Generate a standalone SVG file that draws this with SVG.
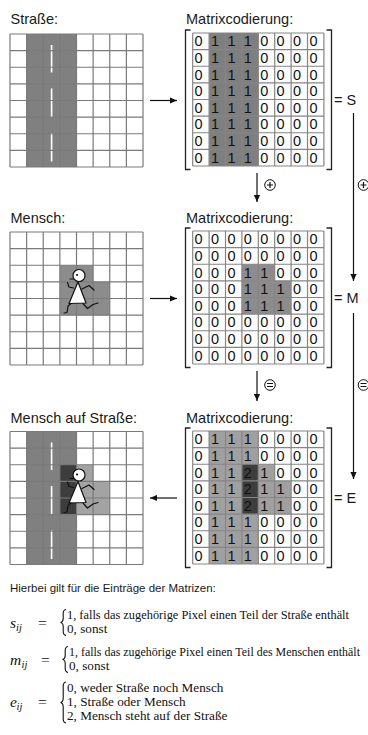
<svg xmlns="http://www.w3.org/2000/svg" xmlns:xlink="http://www.w3.org/1999/xlink" width="368" height="735" viewBox="0 0 368 735">
  <style>
    .lbl { font-family: "Liberation Sans", Arial, sans-serif; font-size: 14.5px; fill: #1a1a1a; }
    .dig { font-family: "Liberation Sans", Arial, sans-serif; font-size: 14.5px; fill: #111; }
    .note { font-family: "Liberation Sans", Arial, sans-serif; font-size: 11.5px; fill: #1a1a1a; }
    .f { font-family: "Liberation Serif", "Times New Roman", serif; font-size: 13.2px; fill: #111; }
    .fl { font-family: "Liberation Serif", "Times New Roman", serif; font-size: 12.2px; fill: #111; }
    .mv { font-family: "Liberation Serif", "Times New Roman", serif; font-style: italic; font-size: 15.5px; fill: #111; }
    .sub { font-family: "Liberation Serif", "Times New Roman", serif; font-style: italic; font-size: 10.5px; fill: #111; }
    .eq { font-family: "Liberation Serif", "Times New Roman", serif; font-size: 15.5px; fill: #111; }
    .gl { fill: none; stroke: #7a7a7a; stroke-width: 1.2; }
    .ml { fill: none; stroke: #858585; stroke-width: 1.2; }
    .br { fill: none; stroke: #222; stroke-width: 1.3; }
    .dash { stroke: #fff; stroke-width: 1.6; }
    .road { fill: #808080; }
    .con { fill: none; stroke: #111; stroke-width: 1.2; }
    .op { fill: #fff; stroke: #111; stroke-width: 1; }
    .brace { fill: none; stroke: #111; stroke-width: 1.1; }
    .fig { fill: none; stroke: #111; stroke-width: 1.2; stroke-linecap: round; stroke-linejoin: round; }
  </style>
  <defs>
    <marker id="ah" markerWidth="7" markerHeight="7" refX="7" refY="3.5" orient="auto" markerUnits="userSpaceOnUse">
      <path d="M0,0.4 L7,3.5 L0,6.6z" fill="#111"/>
    </marker>
    <!-- 8x8 pixel grid, 133 px square -->
    <path id="gridlines" class="gl" d="M0 0V133M16.625 0V133M33.25 0V133M49.875 0V133M66.5 0V133M83.125 0V133M99.75 0V133M116.375 0V133M133 0V133M0 0H133M0 16.625H133M0 33.25H133M0 49.875H133M0 66.5H133M0 83.125H133M0 99.75H133M0 116.375H133M0 133H133"/>
    <!-- 8x8 matrix cell borders -->
    <path id="celllines" class="ml" d="M0 0V133M16.4 0V133M32.8 0V133M49.2 0V133M65.6 0V133M82 0V133M98.4 0V133M114.8 0V133M131.2 0V133M0 0H131.2M0 16.625H131.2M0 33.25H131.2M0 49.875H131.2M0 66.5H131.2M0 83.125H131.2M0 99.75H131.2M0 116.375H131.2M0 133H131.2"/>
    <!-- road centre line dashes -->
    <path id="roaddash" class="dash" d="M51.6 11V38.5M51.6 54.5V83M51.6 99V127.5"/>
    <!-- running stick figure, origin at head centre -->
    <g id="runner">
      <polygon points="-1,6.5 -10,28 7,27.5" fill="#fff" stroke="#111" stroke-width="1.2" stroke-linejoin="round"/>
      <circle cx="0" cy="0" r="6" fill="#fff" stroke="#111" stroke-width="1.2"/>
      <circle cx="-2" cy="-0.5" r="1.1" fill="#111"/>
      <path class="fig" d="M-9 3.5H-5.5"/>
      <polyline class="fig" points="-5.5,12.5 -10,11.5 -11.5,7"/>
      <polyline class="fig" points="3,13.5 10,10 15,14.5"/>
      <polyline class="fig" points="-8,28 -11,30.5 -12,37 -15,37.5"/>
      <polyline class="fig" points="4,28 8.5,33 14,29 19,27.5"/>
    </g>
  </defs>

  <rect width="368" height="735" fill="#fff"/>

  <!-- Straße -->
  <g id="node-strasse">
    <text class="lbl" x="10.5" y="24">Straße:</text>
    <rect x="10" y="34" width="133" height="133" fill="#fff"/>
    <rect class="road" x="26.625" y="34" width="49.875" height="133"/>
    <use href="#roaddash" xlink:href="#roaddash" y="34"/>
    <use href="#gridlines" xlink:href="#gridlines" x="10" y="34"/>
  </g>

  <!-- Matrix S -->
  <g id="node-matrix-s">
    <text class="lbl" x="186" y="24">Matrixcodierung:</text>
    <rect x="192.7" y="33" width="131.2" height="133" fill="#fff"/>
    <rect x="209.1" y="33" width="49.2" height="133" fill="#7f7f7f"/>
    <use href="#celllines" xlink:href="#celllines" x="192.7" y="33"/>
    <g class="dig">
      <text x="194.6 211 227.4 243.8 260.2 276.6 293 309.4" y="46.3">01110000</text>
      <text x="194.6 211 227.4 243.8 260.2 276.6 293 309.4" y="62.9">01110000</text>
      <text x="194.6 211 227.4 243.8 260.2 276.6 293 309.4" y="79.55">01110000</text>
      <text x="194.6 211 227.4 243.8 260.2 276.6 293 309.4" y="96.2">01110000</text>
      <text x="194.6 211 227.4 243.8 260.2 276.6 293 309.4" y="112.8">01110000</text>
      <text x="194.6 211 227.4 243.8 260.2 276.6 293 309.4" y="129.4">01110000</text>
      <text x="194.6 211 227.4 243.8 260.2 276.6 293 309.4" y="146.05">01110000</text>
      <text x="194.6 211 227.4 243.8 260.2 276.6 293 309.4" y="162.7">01110000</text>
    </g>
    <path class="br" d="M190.5 30H185.5V169.5H190.5M326.5 30H331.5V169.5H326.5"/>
    <text class="lbl" x="334" y="105">= S</text>
  </g>

  <!-- Mensch -->
  <g id="node-mensch">
    <text class="lbl" x="10.5" y="222.5">Mensch:</text>
    <rect x="10" y="232" width="133" height="133" fill="#fff"/>
    <rect x="59.875" y="265.25" width="33.25" height="16.625" fill="#8c8c8c"/>
    <rect x="59.875" y="281.875" width="49.875" height="33.25" fill="#8c8c8c"/>
    <use href="#gridlines" xlink:href="#gridlines" x="10" y="232"/>
    <use href="#runner" xlink:href="#runner" x="79" y="275.5"/>
  </g>

  <!-- Matrix M -->
  <g id="node-matrix-m">
    <text class="lbl" x="186" y="222.5">Matrixcodierung:</text>
    <rect x="192.7" y="231" width="131.2" height="133" fill="#fff"/>
    <rect x="241.9" y="264.25" width="32.8" height="16.625" fill="#8c8c8c"/>
    <rect x="241.9" y="280.875" width="49.2" height="33.25" fill="#8c8c8c"/>
    <use href="#celllines" xlink:href="#celllines" x="192.7" y="231"/>
    <g class="dig">
      <text x="194.6 211 227.4 243.8 260.2 276.6 293 309.4" y="244.3">00000000</text>
      <text x="194.6 211 227.4 243.8 260.2 276.6 293 309.4" y="260.9">00000000</text>
      <text x="194.6 211 227.4 243.8 260.2 276.6 293 309.4" y="277.55">00011000</text>
      <text x="194.6 211 227.4 243.8 260.2 276.6 293 309.4" y="294.2">00011100</text>
      <text x="194.6 211 227.4 243.8 260.2 276.6 293 309.4" y="310.8">00011100</text>
      <text x="194.6 211 227.4 243.8 260.2 276.6 293 309.4" y="327.4">00000000</text>
      <text x="194.6 211 227.4 243.8 260.2 276.6 293 309.4" y="344.05">00000000</text>
      <text x="194.6 211 227.4 243.8 260.2 276.6 293 309.4" y="360.7">00000000</text>
    </g>
    <path class="br" d="M190.5 228H185.5V367.5H190.5M326.5 228H331.5V367.5H326.5"/>
    <text class="lbl" x="334" y="303">= M</text>
  </g>

  <!-- Mensch auf Straße -->
  <g id="node-mensch-strasse">
    <text class="lbl" x="10.5" y="422.5">Mensch auf Straße:</text>
    <rect x="10" y="431.5" width="133" height="133" fill="#fff"/>
    <rect class="road" x="26.625" y="431.5" width="49.875" height="133"/>
    <rect x="59.875" y="464.75" width="16.625" height="49.875" fill="#3d3d3d"/>
    <rect x="76.5" y="464.75" width="16.625" height="16.625" fill="#a3a3a3"/>
    <rect x="76.5" y="481.375" width="33.25" height="33.25" fill="#a3a3a3"/>
    <use href="#roaddash" xlink:href="#roaddash" y="431.5"/>
    <use href="#gridlines" xlink:href="#gridlines" x="10" y="431.5"/>
    <use href="#runner" xlink:href="#runner" x="79" y="475"/>
  </g>

  <!-- Matrix E -->
  <g id="node-matrix-e">
    <text class="lbl" x="186" y="422.5">Matrixcodierung:</text>
    <rect x="192.7" y="431" width="131.2" height="133" fill="#fff"/>
    <rect x="209.1" y="431" width="49.2" height="133" fill="#a0a0a0"/>
    <rect x="241.9" y="464.25" width="16.4" height="49.875" fill="#3d3d3d"/>
    <rect x="258.3" y="464.25" width="16.4" height="16.625" fill="#a0a0a0"/>
    <rect x="258.3" y="480.875" width="32.8" height="33.25" fill="#a0a0a0"/>
    <use href="#celllines" xlink:href="#celllines" x="192.7" y="431"/>
    <g class="dig">
      <text x="194.6 211 227.4 243.8 260.2 276.6 293 309.4" y="444.3">01110000</text>
      <text x="194.6 211 227.4 243.8 260.2 276.6 293 309.4" y="460.9">01110000</text>
      <text x="194.6 211 227.4 243.8 260.2 276.6 293 309.4" y="477.55">01121000</text>
      <text x="194.6 211 227.4 243.8 260.2 276.6 293 309.4" y="494.2">01121100</text>
      <text x="194.6 211 227.4 243.8 260.2 276.6 293 309.4" y="510.8">01121100</text>
      <text x="194.6 211 227.4 243.8 260.2 276.6 293 309.4" y="527.4">01110000</text>
      <text x="194.6 211 227.4 243.8 260.2 276.6 293 309.4" y="544.05">01110000</text>
      <text x="194.6 211 227.4 243.8 260.2 276.6 293 309.4" y="560.7">01110000</text>
    </g>
    <path class="br" d="M190.5 428H185.5V567.5H190.5M326.5 428H331.5V567.5H326.5"/>
    <text class="lbl" x="334" y="503">= E</text>
  </g>

  <!-- connectors -->
  <g id="connectors">
    <line class="con" x1="150" y1="100.5" x2="177" y2="100.5" marker-end="url(#ah)"/>
    <line class="con" x1="150" y1="298.5" x2="177" y2="298.5" marker-end="url(#ah)"/>
    <line class="con" x1="177" y1="498" x2="150" y2="498" marker-end="url(#ah)"/>
    <line class="con" x1="257" y1="173" x2="257" y2="202" marker-end="url(#ah)"/>
    <line class="con" x1="257" y1="371" x2="257" y2="401" marker-end="url(#ah)"/>
    <line class="con" x1="353.5" y1="113" x2="353.5" y2="281" marker-end="url(#ah)"/>
    <line class="con" x1="353.5" y1="313" x2="353.5" y2="479" marker-end="url(#ah)"/>
    <!-- plus operators -->
    <circle class="op" cx="270" cy="185" r="5.3"/>
    <path class="con" d="M267 185H273M270 182V188"/>
    <circle class="op" cx="363.5" cy="185" r="5.3"/>
    <path class="con" d="M360.5 185H366.5M363.5 182V188"/>
    <!-- equals operators -->
    <circle class="op" cx="270" cy="385" r="5.3"/>
    <path class="con" d="M267 383.5H273M267 386.5H273"/>
    <circle class="op" cx="363.5" cy="385" r="5.3"/>
    <path class="con" d="M360.5 383.5H366.5M360.5 386.5H366.5"/>
  </g>

  <!-- definitions of the matrix entries -->
  <g id="legend">
    <text class="note" x="10" y="592">Hierbei gilt für die Einträge der Matrizen:</text>

    <text class="mv" x="10" y="628">s</text>
    <text class="sub" x="16" y="631">ij</text>
    <text class="eq" x="38" y="628">=</text>
    <path class="brace" d="M66 609.5Q63.2 610 63.2 613.5V618.5Q63.2 622 60.5 622.5Q63.2 623 63.2 626.5V631.5Q63.2 635 66 635.5"/>
    <text class="fl" x="67" y="619" textLength="282" lengthAdjust="spacingAndGlyphs">1, falls das zugehörige Pixel einen Teil der Straße enthält</text>
    <text class="f" x="67" y="633">0, sonst</text>

    <text class="mv" x="10" y="665">m</text>
    <text class="sub" x="21.5" y="668">ij</text>
    <text class="eq" x="41" y="665">=</text>
    <path class="brace" d="M68 646.5Q65.2 647 65.2 650.5V655.5Q65.2 659 62.5 659.5Q65.2 660 65.2 663.5V668.5Q65.2 672 68 672.5"/>
    <text class="fl" x="69" y="656" textLength="291" lengthAdjust="spacingAndGlyphs" style="font-size:11.9px">1, falls das zugehörige Pixel einen Teil des Menschen enthält</text>
    <text class="f" x="69" y="670">0, sonst</text>

    <text class="mv" x="10" y="707">e</text>
    <text class="sub" x="16.5" y="710">ij</text>
    <text class="eq" x="38" y="707">=</text>
    <path class="brace" d="M66 682Q63.2 682.5 63.2 686V698Q63.2 702 60.5 702.5Q63.2 703 63.2 707V719Q63.2 722.5 66 723"/>
    <text class="f" x="67" y="692">0, weder Straße noch Mensch</text>
    <text class="f" x="67" y="706">1, Straße oder Mensch</text>
    <text class="f" x="67" y="720">2, Mensch steht auf der Straße</text>
  </g>
</svg>
